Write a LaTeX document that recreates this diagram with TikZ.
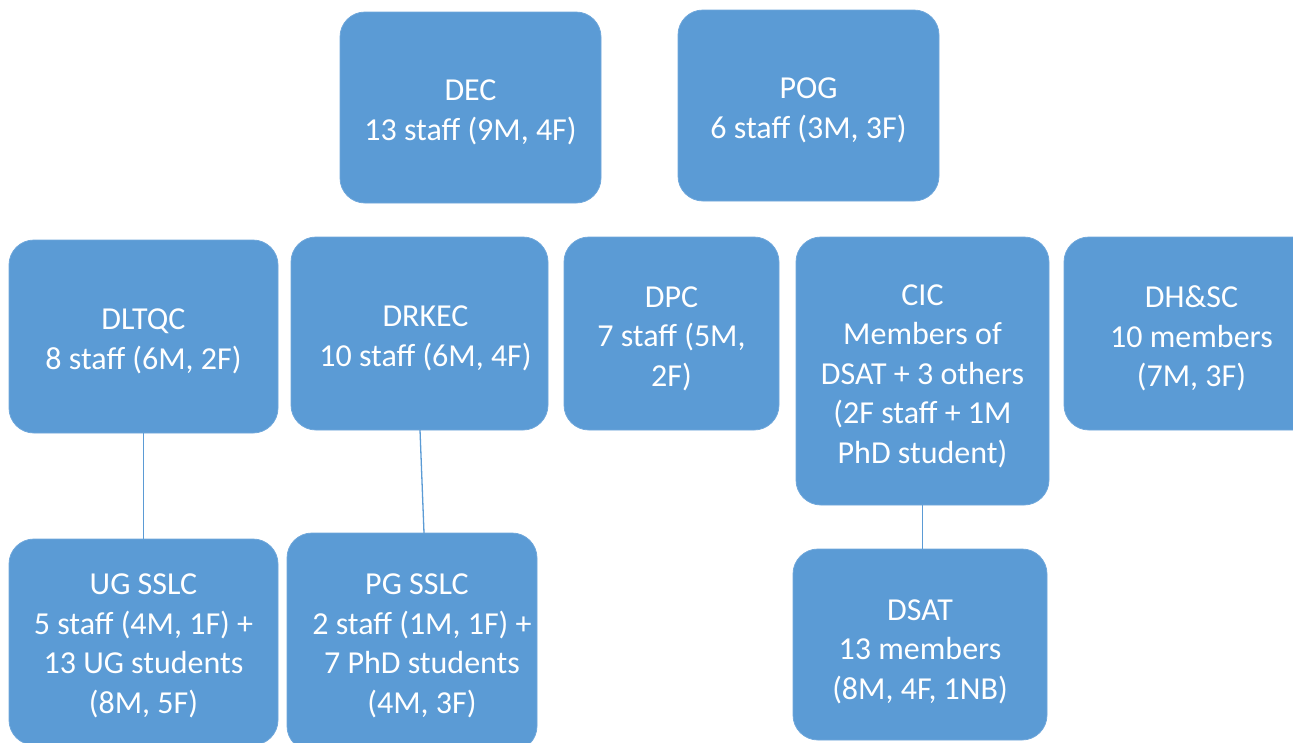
\documentclass[tikz,border=0pt]{standalone}
\usepackage{fontspec}
\setmainfont{Carlito}
\begin{document}
\begin{tikzpicture}[x=1pt,y=-1pt,
  box/.style={fill=boxblue, draw=boxedge, line width=0.8pt, rounded corners=25pt,
    inner sep=0pt, outer sep=0pt},
  txt/.style={text=white, align=center, inner sep=0pt,
    font=\fontsize{32}{39.5}\selectfont},
  conn/.style={draw=boxblue, line width=1.3pt}]
\definecolor{boxblue}{HTML}{5B9BD5}
\definecolor{boxedge}{HTML}{6FA7DB}
\useasboundingbox (0,0) rectangle (1293,742);
\clip (0,0) rectangle (1293,742);
% boxes
\node[box, minimum width=261pt, minimum height=191pt] (dec) at (470.5,107.5) {};
\node[box, minimum width=261pt, minimum height=191pt] (pog) at (808.5,105.5) {};
\node[box, minimum width=269pt, minimum height=193pt] (dltqc) at (143.5,336.5) {};
\node[box, minimum width=257pt, minimum height=193pt] (drkec) at (419.5,333.5) {};
\node[box, minimum width=215pt, minimum height=193pt] (dpc) at (671.5,333.5) {};
\node[box, minimum width=253pt, minimum height=268pt] (cic) at (922.5,371) {};
\node[box, minimum width=255pt, minimum height=193pt] (dhsc) at (1191.5,333.5) {};
\node[box, minimum width=269pt, minimum height=206pt] (ug) at (143.5,642) {};
\node[box, minimum width=250pt, minimum height=218pt] (pg) at (412,642) {};
\node[box, minimum width=254pt, minimum height=191pt] (dsat) at (920,644.5) {};
% texts
\node[txt] (dect) at ([yshift=-5pt]dec.center) {DEC\\13 staff (9M, 4F)};
\node[txt] (pogt) at ([yshift=-5pt]pog.center) {POG\\6 staff (3M, 3F)};
\node[txt] (dltqct) at ([yshift=-5pt]dltqc.center) {DLTQC\\8 staff (6M, 2F)};
\node[txt] (drkect) at ([xshift=6pt,yshift=-5pt]drkec.center) {DRKEC\\10 staff (6M, 4F)};
\node[txt] (dpct) at ([yshift=-5pt]dpc.center) {DPC\\7 staff (5M,\\2F)};
\node[txt] (cict) at ([yshift=-5pt]cic.center) {CIC\\Members of\\DSAT + 3 others\\(2F staff + 1M\\PhD student)};
\node[txt] (dhsct) at ([yshift=-5pt]dhsc.center) {DH\&SC\\10 members\\(7M, 3F)};
\node[txt] (ugt) at ([yshift=-4pt]ug.center) {UG SSLC\\5 staff (4M, 1F) +\\13 UG students\\(8M, 5F)};
\node[txt] (pgt) at ([yshift=-4pt]pg.center) {\hspace*{10pt}PG SSLC\\\hspace*{20pt}2 staff (1M, 1F) +\\\hspace*{20pt}7 PhD students\\\hspace*{20pt}(4M, 3F)};
\node[txt] (dsatt) at ([yshift=-7pt]dsat.center) {DSAT\\13 members\\(8M, 4F, 1NB)};
% connectors
\draw[conn] (dltqc.south) -- (ug.north);
\draw[conn] ([xshift=0.5pt]drkec.south) -- ([xshift=12pt]pg.north);
\draw[conn] (cic.south) -- (cic.south |- dsat.north);
\end{tikzpicture}
\end{document}
